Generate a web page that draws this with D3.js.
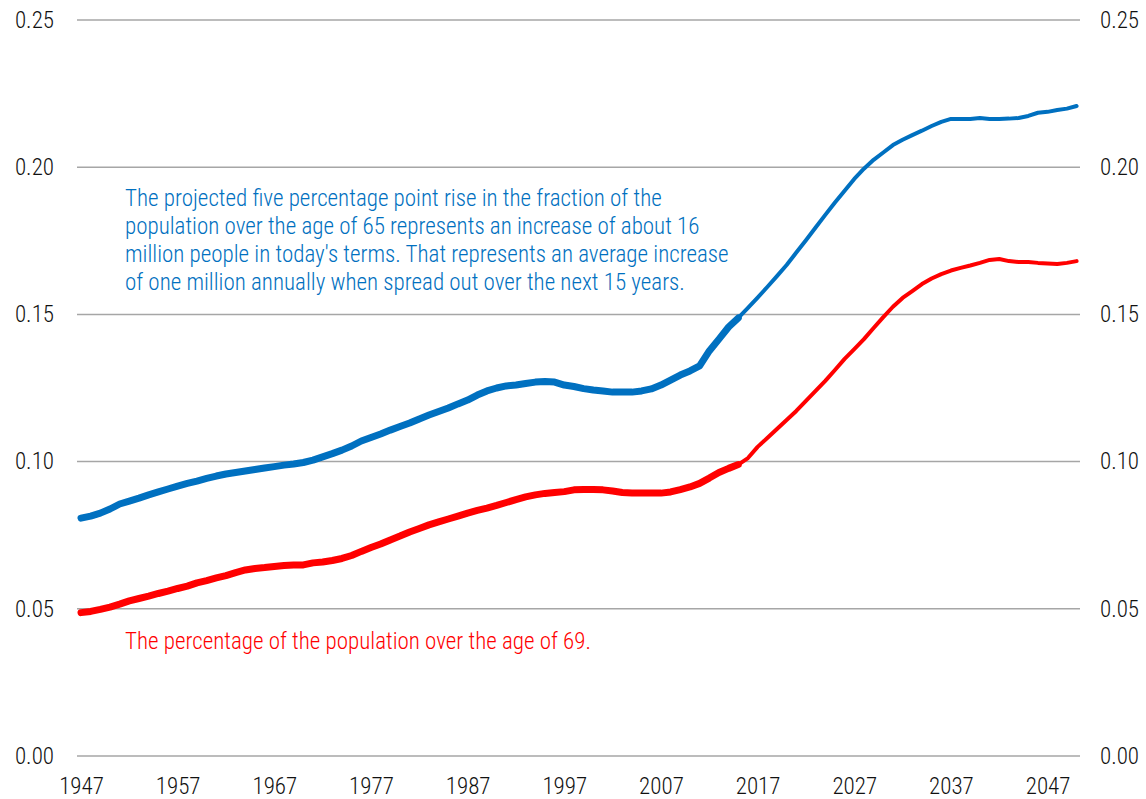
<!DOCTYPE html>
<html><head><meta charset="utf-8">
<script src="https://cdn.jsdelivr.net/npm/d3@7"></script>
<style>
body{margin:0;background:#fff;}
text{font-family:"Roboto Condensed","Liberation Sans Narrow","Arial Narrow",sans-serif;font-weight:300;}
</style></head><body>
<svg id="chart" width="1146" height="799"></svg>
<script>
const startYear = 1947;
const histEnd = 2015;
const yTickValues = [0, 0.05, 0.10, 0.15, 0.20, 0.25];
const xTickLabels = ["1947","1957","1967","1977","1987","1997","2007","2017","2027","2037","2047"];

// share of population over 65 (annual, 1947-2050)
const over65 = [
0.0808,0.0815,0.0825,0.0839,0.0856,0.0866,0.0876,0.0887,0.0897,0.0907,
0.0917,0.0926,0.0934,0.0943,0.0951,0.0958,0.0963,0.0968,0.0973,0.0978,
0.0983,0.0988,0.0992,0.0997,0.1005,0.1016,0.1027,0.1039,0.1053,0.1070,
0.1082,0.1094,0.1107,0.1119,0.1131,0.1145,0.1158,0.1170,0.1182,0.1196,
0.1209,0.1226,0.1240,0.1250,0.1257,0.1260,0.1265,0.1270,0.1272,0.1270,
0.1260,0.1255,0.1248,0.1243,0.1240,0.1236,0.1236,0.1236,0.1240,0.1247,
0.1260,0.1277,0.1294,0.1308,0.1325,0.1376,0.1416,0.1457,0.1488,0.1522,
0.1557,0.1593,0.1630,0.1668,0.1710,0.1752,0.1795,0.1838,0.1880,0.1920,
0.1960,0.1995,0.2025,0.2050,0.2075,0.2093,0.2109,0.2124,0.2140,0.2154,
0.2164,0.2164,0.2164,0.2167,0.2164,0.2164,0.2165,0.2167,0.2174,0.2185,
0.2188,0.2194,0.2199,0.2208];

// share of population over 69 (annual, 1947-2050)
const over69 = [
0.0487,0.0491,0.0498,0.0506,0.0516,0.0527,0.0535,0.0543,0.0552,0.0560,
0.0569,0.0577,0.0588,0.0596,0.0605,0.0613,0.0623,0.0632,0.0637,0.0640,
0.0644,0.0647,0.0649,0.0649,0.0656,0.0659,0.0664,0.0671,0.0681,0.0695,
0.0708,0.0720,0.0734,0.0747,0.0761,0.0773,0.0785,0.0795,0.0805,0.0815,
0.0825,0.0834,0.0842,0.0851,0.0861,0.0871,0.0880,0.0887,0.0892,0.0895,
0.0898,0.0904,0.0905,0.0905,0.0904,0.0900,0.0895,0.0893,0.0893,0.0893,
0.0893,0.0897,0.0905,0.0914,0.0926,0.0944,0.0963,0.0977,0.0990,0.1012,
0.1050,0.1080,0.1111,0.1141,0.1172,0.1206,0.1240,0.1274,0.1311,0.1349,
0.1382,0.1416,0.1454,0.1491,0.1526,0.1556,0.1579,0.1603,0.1622,0.1637,
0.1649,0.1658,0.1666,0.1675,0.1685,0.1688,0.1681,0.1678,0.1678,0.1675,
0.1673,0.1671,0.1675,0.1681];

const blueText = [
"The projected five percentage point rise in the fraction of the",
"population over the age of 65 represents an increase of about 16",
"million people in today's terms. That represents an average increase",
"of one million annually when spread out over the next 15 years."];
const redText = "The percentage of the population over the age of 69.";

const svg = d3.select("#chart");
const x = d3.scaleLinear().domain([1947, 2050]).range([81, 1076.6]);
const y = d3.scaleLinear().domain([0, 0.25]).range([756, 20]);
const fmt = d3.format(".2f");

// gridlines
svg.append("g").selectAll("line").data(yTickValues).join("line")
  .attr("x1", 77).attr("x2", 1080)
  .attr("y1", d => y(d)).attr("y2", d => y(d))
  .attr("stroke", "#a6a6a6").attr("stroke-width", 1.5);

const styleAxis = g => {
  g.select(".domain").remove();
  g.selectAll("line").remove();
  g.selectAll("text").attr("font-size", 23).attr("fill", "#111")
   .style("font-family", '"Roboto Condensed","Liberation Sans Narrow",sans-serif')
   .style("font-weight", 300);
};

svg.append("g").attr("transform", "translate(77,0)")
  .call(d3.axisLeft(y).tickValues(yTickValues).tickFormat(fmt).tickSize(0).tickPadding(23))
  .call(styleAxis);
svg.append("g").attr("transform", "translate(1080,0)")
  .call(d3.axisRight(y).tickValues(yTickValues).tickFormat(fmt).tickSize(0).tickPadding(20))
  .call(styleAxis);
svg.append("g").attr("transform", "translate(0,756)")
  .call(d3.axisBottom(x).tickValues(xTickLabels.map(Number)).tickFormat(d => String(d)).tickSize(0).tickPadding(22))
  .call(styleAxis);

const toPts = arr => arr.map((v, i) => ({year: startYear + i, v}));
const line = d3.line().x(d => x(d.year)).y(d => y(d.v));

function drawSeries(arr, color) {
  const pts = toPts(arr);
  const hist = pts.filter(d => d.year <= histEnd);
  const proj = pts.filter(d => d.year >= histEnd);
  svg.append("path").datum(proj).attr("d", line).attr("fill", "none")
    .attr("stroke", color).attr("stroke-width", 4).attr("stroke-linejoin", "round").attr("stroke-linecap", "round");
  svg.append("path").datum(hist).attr("d", line).attr("fill", "none")
    .attr("stroke", color).attr("stroke-width", 7).attr("stroke-linejoin", "round").attr("stroke-linecap", "round");
}
drawSeries(over65, "#0070C0");
drawSeries(over69, "#FF0000");

svg.append("g").selectAll("text").data(blueText).join("text")
  .attr("x", 125).attr("y", (d, i) => 206 + i * 28)
  .attr("font-size", 23).attr("fill", "#0070C0").text(d => d);
svg.append("text").attr("x", 125).attr("y", 649)
  .attr("font-size", 23).attr("fill", "#FF0000").text(redText);
</script></body></html>
